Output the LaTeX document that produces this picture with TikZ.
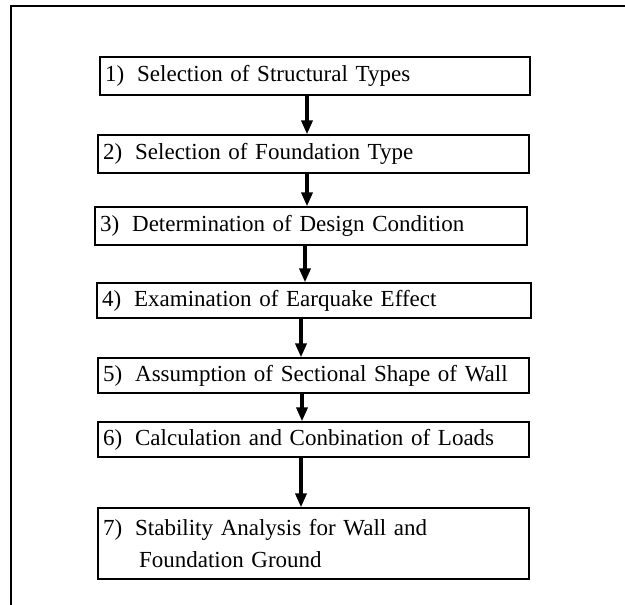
\documentclass[tikz,border=0pt]{standalone}
\usepackage{fontspec}
\setmainfont{Liberation Serif}
\usepackage{tikz}
\usetikzlibrary{arrows.meta,positioning}

\begin{document}
\begin{tikzpicture}[x=1pt,y=-1pt,>={Triangle[length=14pt,width=11pt]},
    stepbox/.style={draw,line width=1.3pt,rectangle,inner xsep=5pt,inner ysep=2pt,
      align=left,font=\fontsize{23}{32}\selectfont},
    flow/.style={->,line width=3.4pt}]
    \useasboundingbox (0,0) rectangle (625,605);
    % outer frame (top and left edges only)
    \draw[line width=1.4pt] (11,605) -- (11,6) -- (625,6);
    % steps
    \node[stepbox,text width=420pt,minimum height=38pt] (b1) at (315,76) {1)\hspace{13pt}Selection of Structural Types};
    \node[stepbox,text width=421pt,minimum height=38pt] (b2) at (313.5,154) {2)\hspace{13pt}Selection of Foundation Type};
    \node[stepbox,text width=422pt,minimum height=38pt] (b3) at (311,226) {3)\hspace{13pt}Determination of Design Condition};
    \node[stepbox,text width=424pt,minimum height=35pt] (b4) at (314,300.5) {4)\hspace{13pt}Examination of Earquake Effect};
    \node[stepbox,text width=421pt,minimum height=35pt] (b5) at (313.5,375.5) {5)\hspace{13pt}Assumption of Sectional Shape of Wall};
    \node[stepbox,text width=421pt,minimum height=35pt] (b6) at (313.5,439.5) {6)\hspace{13pt}Calculation and Conbination of Loads};
    \node[stepbox,text width=421pt,minimum height=71pt] (b7) at (313.5,543.5) {7)\hspace{13pt}Stability Analysis for Wall and\\\hspace*{36pt}Foundation Ground};
    % arrows
    \draw[flow] ([xshift=-8]b1.south) -- ([xshift=-8]b1.south |- b2.north);
    \draw[flow] ([xshift=-6.5]b2.south) -- ([xshift=-6.5]b2.south |- b3.north);
    \draw[flow] ([xshift=-6]b3.south) -- ([xshift=-6]b3.south |- b4.north);
    \draw[flow] ([xshift=-13]b4.south) -- ([xshift=-13]b4.south |- b5.north);
    \draw[flow] ([xshift=-11.5]b5.south) -- ([xshift=-11.5]b5.south |- b6.north);
    \draw[flow] ([xshift=-12.5]b6.south) -- ([xshift=-12.5]b6.south |- b7.north);
\end{tikzpicture}
\end{document}
